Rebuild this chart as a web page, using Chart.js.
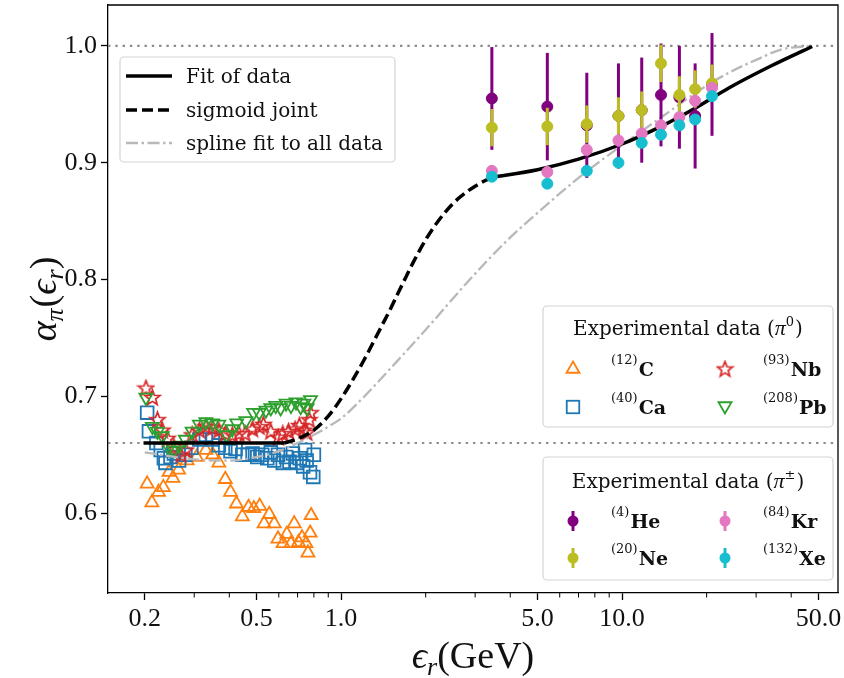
<!DOCTYPE html>
<html><head><meta charset="utf-8">
<script src="https://cdn.jsdelivr.net/npm/chart.js@4/dist/chart.umd.min.js"></script>
<style>html,body{margin:0;padding:0;background:#fff}</style>
</head><body>
<canvas id="c" width="844" height="678"></canvas>
<script>
// ---------- tick labels ----------
const xTickValues = [0.2, 0.5, 1.0, 5.0, 10.0, 50.0];
const xTickLabels = ['0.2', '0.5', '1.0', '5.0', '10.0', '50.0'];
const xMinorTicks = [0.3, 0.4, 0.6, 0.7, 0.8, 0.9, 2, 3, 4, 6, 7, 8, 9, 20, 30, 40];
const yTickValues = [0.6, 0.7, 0.8, 0.9, 1.0];
const yTickLabels = ['0.6', '0.7', '0.8', '0.9', '1.0'];
const refLevels = [1.0, 0.66];

// ---------- pi0 data ----------
const cX = [0.204,0.212,0.224,0.233,0.244,0.252,0.264,0.283,0.306,0.330,0.349,0.367,0.387,0.404,0.424,0.445,0.468,0.489,0.513,0.532,0.555,0.578,0.596,0.621,0.641,0.663,0.681,0.705,0.726,0.750,0.762,0.782,0.776];
const cY = [0.625,0.609,0.618,0.622,0.635,0.630,0.637,0.645,0.648,0.654,0.650,0.643,0.629,0.618,0.608,0.597,0.605,0.604,0.606,0.591,0.599,0.591,0.578,0.574,0.582,0.574,0.591,0.575,0.579,0.574,0.566,0.598,0.583];
const caX = [0.204,0.207,0.220,0.228,0.234,0.237,0.247,0.254,0.265,0.279,0.293,0.313,0.330,0.349,0.367,0.387,0.404,0.421,0.445,0.465,0.484,0.503,0.524,0.546,0.562,0.578,0.596,0.620,0.637,0.655,0.674,0.694,0.713,0.733,0.744,0.754,0.775,0.796,0.800];
const caY = [0.686,0.670,0.660,0.654,0.647,0.643,0.648,0.651,0.645,0.650,0.656,0.663,0.667,0.663,0.658,0.656,0.653,0.655,0.650,0.650,0.651,0.648,0.650,0.647,0.652,0.645,0.650,0.643,0.648,0.644,0.651,0.643,0.647,0.640,0.654,0.645,0.635,0.631,0.650];
const nbX = [0.202,0.213,0.222,0.231,0.241,0.254,0.269,0.280,0.295,0.313,0.330,0.349,0.367,0.387,0.410,0.433,0.455,0.484,0.511,0.529,0.562,0.598,0.620,0.650,0.686,0.710,0.737,0.755,0.770,0.778];
const nbY = [0.707,0.699,0.680,0.671,0.664,0.657,0.650,0.654,0.667,0.671,0.674,0.673,0.671,0.668,0.667,0.668,0.668,0.672,0.674,0.676,0.670,0.665,0.668,0.670,0.672,0.675,0.671,0.669,0.680,0.686];
const pbX = [0.202,0.213,0.222,0.231,0.244,0.254,0.265,0.279,0.295,0.313,0.330,0.349,0.367,0.392,0.410,0.425,0.458,0.488,0.511,0.540,0.562,0.585,0.609,0.637,0.663,0.691,0.718,0.737,0.757,0.778];
const pbY = [0.699,0.674,0.670,0.666,0.656,0.654,0.658,0.663,0.670,0.676,0.678,0.677,0.676,0.667,0.672,0.677,0.679,0.686,0.686,0.688,0.690,0.692,0.690,0.694,0.692,0.695,0.691,0.694,0.690,0.697];

// ---------- pi+- data ----------
const piX  = [3.44, 5.42, 7.49, 9.71, 11.75, 13.76, 16.0, 18.2, 20.9];
const heY  = [0.955, 0.948, 0.932, 0.940, 0.945, 0.958, 0.956, 0.940, 0.967];
const heErr= [0.044, 0.046, 0.045, 0.045, 0.045, 0.044, 0.044, 0.045, 0.044];
const neY  = [0.930, 0.931, 0.933, 0.940, 0.945, 0.985, 0.958, 0.963, 0.968];
const neErr= [0.016, 0.016, 0.016, 0.016, 0.016, 0.016, 0.016, 0.016, 0.016];
const krY  = [0.893, 0.892, 0.911, 0.919, 0.925, 0.932, 0.939, 0.953, 0.964];
const krErr= [0.005, 0.005, 0.005, 0.005, 0.005, 0.005, 0.005, 0.005, 0.005];
const xeY  = [0.888, 0.882, 0.893, 0.900, 0.917, 0.924, 0.932, 0.937, 0.957];
const xeErr= [0.004, 0.004, 0.004, 0.004, 0.004, 0.004, 0.004, 0.004, 0.004];

// ---------- curves ----------
const fitLowX = [0.198, 0.627];
const fitLowY = [0.660, 0.660];
const fitHighX = [3.44, 5.0, 7.0, 10.0, 14.0, 18.0, 24.0, 34.0, 47.5];
const fitHighY = [0.8875, 0.894, 0.903, 0.916, 0.932, 0.946, 0.964, 0.983, 0.9995];
const sigX = [0.627, 0.7, 0.8, 0.9, 1.0, 1.1, 1.2, 1.3, 1.4, 1.5, 1.6, 1.7, 1.8, 2.0, 2.2, 2.5, 2.8, 3.1, 3.44];
const sigY = [0.660, 0.6635, 0.671, 0.683, 0.698, 0.714, 0.730, 0.746, 0.761, 0.775, 0.789, 0.802, 0.814, 0.834, 0.849, 0.865, 0.875, 0.882, 0.8875];
const splX = [0.2, 0.3, 0.4, 0.5, 0.6, 0.7, 0.8, 0.9, 1.0, 1.2, 1.5, 2.0, 3.0, 4.0, 5.0, 7.0, 10, 14, 20, 24, 30, 37, 47];
const splY = [0.652, 0.646, 0.645, 0.648, 0.653, 0.660, 0.667, 0.674, 0.681, 0.699, 0.724, 0.757, 0.805, 0.836, 0.857, 0.887, 0.915, 0.940, 0.966, 0.977, 0.988, 0.997, 1.0];

const pts = (xs, ys) => xs.map((x, i) => ({x: x, y: ys[i]}));

const COL = {C:'#ff7f0e', Ca:'#1f77b4', Nb:'#d62728', Pb:'#2ca02c', He:'#800080', Ne:'#bcbd22', Kr:'#e377c2', Xe:'#17becf', spline:'#b8b8b8'};

function makeStar(color) {
  const s = 19, c = document.createElement('canvas');
  c.width = s; c.height = s;
  const g = c.getContext('2d');
  const R = 8, r = 3.4;
  g.beginPath();
  for (let k = 0; k < 10; k++) {
    const rad = (k % 2 ? r : R);
    const a = -Math.PI / 2 + k * Math.PI / 5;
    const px = s / 2 + rad * Math.cos(a), py = s / 2 + 0.5 + rad * Math.sin(a);
    if (k === 0) g.moveTo(px, py); else g.lineTo(px, py);
  }
  g.closePath();
  g.strokeStyle = color; g.lineWidth = 1.7; g.lineJoin = 'miter';
  g.stroke();
  return c;
}
const starImg = makeStar(COL.Nb);

const datasets = [
  {label:'C', data: pts(cX, cY), pointStyle:'triangle', pointRadius:7.5, borderColor:COL.C, backgroundColor:'rgba(0,0,0,0)', pointBorderWidth:1.8, order:9},
  {label:'Ca', data: pts(caX, caY), pointStyle:'rect', pointRadius:9, borderColor:COL.Ca, backgroundColor:'rgba(0,0,0,0)', pointBorderWidth:1.8, order:8},
  {label:'Nb', data: pts(nbX, nbY), pointStyle:starImg, pointRadius:8, borderColor:COL.Nb, backgroundColor:'rgba(0,0,0,0)', order:7},
  {label:'Pb', data: pts(pbX, pbY), pointStyle:'triangle', pointRotation:180, pointRadius:7.5, borderColor:COL.Pb, backgroundColor:'rgba(0,0,0,0)', pointBorderWidth:1.8, order:6},
  {label:'spline fit to all data', data: pts(splX, splY), showLine:true, pointRadius:0, borderColor:COL.spline, borderWidth:2.3, borderDash:[12,3.5,2.5,3.5], cubicInterpolationMode:'monotone', order:5},
  {label:'Fit of data', data: pts(fitLowX, fitLowY), showLine:true, pointRadius:0, borderColor:'#000', borderWidth:3.5, order:4},
  {label:'Fit of data (high)', data: pts(fitHighX, fitHighY), showLine:true, pointRadius:0, borderColor:'#000', borderWidth:3.5, cubicInterpolationMode:'monotone', order:4},
  {label:'sigmoid joint', data: pts(sigX, sigY), showLine:true, pointRadius:0, borderColor:'#000', borderWidth:3.5, borderDash:[11,5], cubicInterpolationMode:'monotone', order:4},
  {label:'He', data: pts(piX, heY), errY: heErr, errColor: COL.He, pointStyle:'circle', pointRadius:5.5, borderColor:COL.He, backgroundColor:COL.He, order:3},
  {label:'Ne', data: pts(piX, neY), errY: neErr, errColor: COL.Ne, pointStyle:'circle', pointRadius:5.5, borderColor:COL.Ne, backgroundColor:COL.Ne, order:2},
  {label:'Kr', data: pts(piX, krY), errY: krErr, errColor: COL.Kr, pointStyle:'circle', pointRadius:5.5, borderColor:COL.Kr, backgroundColor:COL.Kr, order:1},
  {label:'Xe', data: pts(piX, xeY), errY: xeErr, errColor: COL.Xe, pointStyle:'circle', pointRadius:5.5, borderColor:COL.Xe, backgroundColor:COL.Xe, order:0}
];

function drawRich(ctx, parts, x, y, align) {
  let total = 0;
  parts.forEach(p => { ctx.font = p.font; p.w = ctx.measureText(p.t).width; total += p.w + (p.gap || 0); });
  let cx = align === 'center' ? x - total / 2 : (align === 'right' ? x - total : x);
  ctx.textBaseline = 'alphabetic'; ctx.textAlign = 'left';
  parts.forEach(p => { ctx.font = p.font; ctx.fillText(p.t, cx, y + (p.dy || 0)); cx += p.w + (p.gap || 0); });
}

const errorBars = {
  id: 'errorBars',
  beforeDatasetDraw(chart, args) {
    const ds = chart.data.datasets[args.index];
    if (!ds.errY) return;
    const ctx = chart.ctx, xs = chart.scales.x, ys = chart.scales.y;
    ctx.save();
    ctx.strokeStyle = ds.errColor; ctx.lineWidth = 3; ctx.lineCap = 'butt';
    ds.data.forEach((p, i) => {
      const px = xs.getPixelForValue(p.x);
      ctx.beginPath();
      ctx.moveTo(px, ys.getPixelForValue(p.y - ds.errY[i]));
      ctx.lineTo(px, ys.getPixelForValue(p.y + ds.errY[i]));
      ctx.stroke();
    });
    ctx.restore();
  }
};

const refLines = {
  id: 'refLines',
  beforeDatasetsDraw(chart) {
    const ctx = chart.ctx, a = chart.chartArea, ys = chart.scales.y;
    ctx.save();
    ctx.strokeStyle = '#8c8c8c'; ctx.lineWidth = 2.2; ctx.setLineDash([2.4, 4.9]);
    refLevels.forEach(v => {
      const py = ys.getPixelForValue(v);
      ctx.beginPath(); ctx.moveTo(a.left, py); ctx.lineTo(a.right, py); ctx.stroke();
    });
    ctx.restore();
  }
};

function legendBox(ctx, x, y, w, h) {
  ctx.save();
  ctx.beginPath();
  ctx.roundRect(x, y, w, h, 4);
  ctx.fillStyle = 'rgba(255,255,255,0.8)'; ctx.fill();
  ctx.strokeStyle = '#d4d4d4'; ctx.lineWidth = 1.2; ctx.stroke();
  ctx.restore();
}
function markerTri(ctx, x, y, r, color, down) {
  ctx.save(); ctx.translate(x, y); if (down) ctx.rotate(Math.PI);
  ctx.beginPath();
  for (let k = 0; k < 3; k++) { const a = -Math.PI/2 + k * 2*Math.PI/3; const px = r*Math.cos(a), py = r*Math.sin(a); k ? ctx.lineTo(px, py) : ctx.moveTo(px, py); }
  ctx.closePath(); ctx.strokeStyle = color; ctx.lineWidth = 1.8; ctx.stroke(); ctx.restore();
}
function markerSq(ctx, x, y, s, color) {
  ctx.save(); ctx.strokeStyle = color; ctx.lineWidth = 1.8; ctx.strokeRect(x - s/2, y - s/2, s, s); ctx.restore();
}
function markerErr(ctx, x, y, color) {
  ctx.save(); ctx.strokeStyle = color; ctx.lineWidth = 3;
  ctx.beginPath(); ctx.moveTo(x, y - 10); ctx.lineTo(x, y + 10); ctx.stroke();
  ctx.fillStyle = color; ctx.beginPath(); ctx.arc(x, y, 5.5, 0, Math.PI*2); ctx.fill(); ctx.restore();
}

const SERIF = '"DejaVu Serif"';
const MATH = '"Liberation Serif"';
function elemLabel(ctx, sup, sym, x, y) {
  drawRich(ctx, [
    {t: sup, font: '13px ' + SERIF, dy: -5, gap: 1},
    {t: sym, font: 'bold 19px ' + SERIF, dy: 7}
  ], x, y, 'left');
}

const decor = {
  id: 'decor',
  afterDraw(chart) {
    const ctx = chart.ctx, a = chart.chartArea, xs = chart.scales.x;
    ctx.save();
    // top/right frame
    ctx.strokeStyle = '#000'; ctx.lineWidth = 1.3;
    ctx.beginPath(); ctx.moveTo(a.left, a.top); ctx.lineTo(a.right, a.top); ctx.lineTo(a.right, a.bottom); ctx.stroke();
    // minor ticks
    ctx.lineWidth = 1;
    xMinorTicks.forEach(v => {
      const px = xs.getPixelForValue(v);
      ctx.beginPath(); ctx.moveTo(px, a.bottom); ctx.lineTo(px, a.bottom + 4.5); ctx.stroke();
    });
    ctx.fillStyle = '#111';
    // axis titles
    drawRich(ctx, [
      {t: 'ϵ', font: 'italic 38px ' + MATH},
      {t: 'r', font: 'italic 26px ' + MATH, dy: 7},
      {t: '(GeV)', font: '38px ' + MATH}
    ], (a.left + a.right) / 2, 668, 'center');
    ctx.save();
    ctx.translate(56, (a.top + a.bottom) / 2);
    ctx.rotate(-Math.PI / 2);
    drawRich(ctx, [
      {t: 'α', font: 'italic 38px ' + MATH},
      {t: 'π', font: 'italic 26px ' + MATH, dy: 7, gap: 1},
      {t: '(', font: '38px ' + MATH},
      {t: 'ϵ', font: 'italic 38px ' + MATH},
      {t: 'r', font: 'italic 26px ' + MATH, dy: 7},
      {t: ')', font: '38px ' + MATH}
    ], 0, 0, 'center');
    ctx.restore();

    // legend 1: lines
    legendBox(ctx, 120, 57, 275, 105);
    const rows1 = [76, 110, 143];
    ctx.lineWidth = 3.5; ctx.strokeStyle = '#000';
    ctx.setLineDash([]); ctx.beginPath(); ctx.moveTo(126, rows1[0]); ctx.lineTo(172, rows1[0]); ctx.stroke();
    ctx.setLineDash([11, 5]); ctx.beginPath(); ctx.moveTo(126, rows1[1]); ctx.lineTo(172, rows1[1]); ctx.stroke();
    ctx.strokeStyle = COL.spline; ctx.lineWidth = 2.3; ctx.setLineDash([12, 3.5, 2.5, 3.5]);
    ctx.beginPath(); ctx.moveTo(126, rows1[2]); ctx.lineTo(172, rows1[2]); ctx.stroke();
    ctx.setLineDash([]);
    ctx.fillStyle = '#111';
    ['Fit of data', 'sigmoid joint', 'spline fit to all data'].forEach((t, i) => {
      drawRich(ctx, [{t: t, font: '20px ' + SERIF}], 186, rows1[i] + 7, 'left');
    });

    // legend 2: pi0
    legendBox(ctx, 543, 306, 290, 121);
    drawRich(ctx, [
      {t: 'Experimental data (', font: '20px ' + SERIF},
      {t: 'π', font: 'italic 22px ' + MATH},
      {t: '0', font: '13px ' + SERIF, dy: -9, gap: 1},
      {t: ')', font: '20px ' + SERIF}
    ], 688, 335, 'center');
    markerTri(ctx, 573, 369, 7.5, COL.C, false);
    markerSq(ctx, 573, 407, 12.5, COL.Ca);
    ctx.drawImage(starImg, 725 - starImg.width/2, 369 - starImg.height/2);
    markerTri(ctx, 725, 406, 7.5, COL.Pb, true);
    ctx.fillStyle = '#111';
    elemLabel(ctx, '(12)', 'C', 611, 369);
    elemLabel(ctx, '(40)', 'Ca', 611, 407);
    elemLabel(ctx, '(93)', 'Nb', 763, 369);
    elemLabel(ctx, '(208)', 'Pb', 763, 407);

    // legend 3: pi+-
    legendBox(ctx, 543, 457, 290, 123);
    drawRich(ctx, [
      {t: 'Experimental data (', font: '20px ' + SERIF},
      {t: 'π', font: 'italic 22px ' + MATH},
      {t: '±', font: '13px ' + SERIF, dy: -9, gap: 1},
      {t: ')', font: '20px ' + SERIF}
    ], 688, 488, 'center');
    markerErr(ctx, 573, 521, COL.He);
    markerErr(ctx, 573, 558, COL.Ne);
    markerErr(ctx, 725, 521, COL.Kr);
    markerErr(ctx, 725, 558, COL.Xe);
    ctx.fillStyle = '#111';
    elemLabel(ctx, '(4)', 'He', 611, 521);
    elemLabel(ctx, '(20)', 'Ne', 611, 558);
    elemLabel(ctx, '(84)', 'Kr', 763, 521);
    elemLabel(ctx, '(132)', 'Xe', 763, 558);
    ctx.restore();
  }
};

new Chart(document.getElementById('c'), {
  type: 'scatter',
  data: { datasets: datasets },
  options: {
    responsive: false,
    devicePixelRatio: 1,
    animation: false,
    layout: { autoPadding: false, padding: { top: 5, right: 6, left: 0, bottom: 0 } },
    plugins: { legend: { display: false }, tooltip: { enabled: false } },
    scales: {
      x: {
        type: 'logarithmic', min: 0.148, max: 58.7,
        afterBuildTicks: s => { s.ticks = xTickValues.map(v => ({value: v})); },
        afterFit: s => { s.height = 85; s.paddingLeft = 0; s.paddingRight = 0; },
        ticks: { autoSkip: false, maxRotation: 0, padding: 4, color: '#111', font: { family: 'Liberation Serif', size: 26 },
                 callback: (v, i) => xTickLabels[i] },
        grid: { display: true, drawOnChartArea: false, drawTicks: true, tickLength: 7, color: '#000', tickWidth: 1.3 },
        border: { display: true, color: '#000', width: 1.3 }
      },
      y: {
        type: 'linear', min: 0.5316, max: 1.035,
        afterBuildTicks: s => { s.ticks = yTickValues.map(v => ({value: v})); },
        afterFit: s => { s.width = 108; s.paddingTop = 0; s.paddingBottom = 0; },
        ticks: { autoSkip: false, padding: 4, color: '#111', font: { family: 'Liberation Serif', size: 26 },
                 callback: (v, i) => yTickLabels[i] },
        grid: { display: true, drawOnChartArea: false, drawTicks: true, tickLength: 7, color: '#000', tickWidth: 1.3 },
        border: { display: true, color: '#000', width: 1.3 }
      }
    }
  },
  plugins: [refLines, errorBars, decor]
});
</script>
</body></html>
